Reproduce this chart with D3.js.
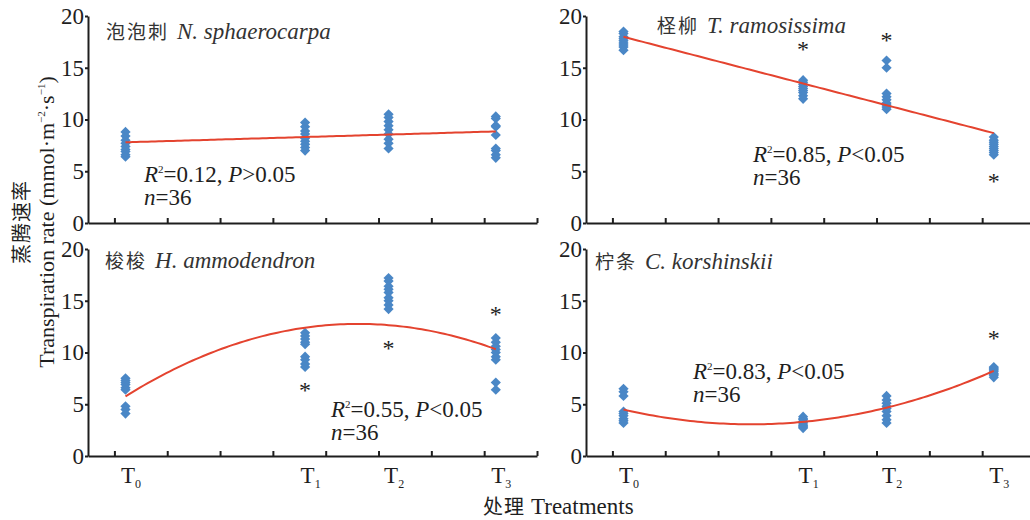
<!DOCTYPE html>
<html>
<head>
<meta charset="utf-8">
<script src="https://cdn.jsdelivr.net/npm/d3@7"></script>
<style>
  body { margin: 0; background: #fff; }
  svg { display: block; }
</style>
</head>
<body>
<svg id="chart" width="1030" height="520"></svg>
<script>
// ---- data ---------------------------------------------------------------
// Treatment subscripts (T0..T3) and their positions on the numeric x axis
const treatmentSubs = ["0", "1", "2", "3"];
const treatmentPos = [0.71, 4.11, 5.69, 7.72];
const xTickValues = [0.5, 1.5, 2.5, 3.5, 4.5, 5.5, 6.5, 7.5, 8.5];
const yTickValues = [0, 5, 10, 15, 20];

// Transpiration rate, 9 measurements per treatment (n = 36 per species)
const nSphaerocarpa = [
  [8.8, 8.4, 8.0, 7.7, 7.4, 7.1, 6.9, 6.6, 6.4],
  [9.7, 9.3, 8.9, 8.6, 8.2, 7.9, 7.6, 7.3, 7.0],
  [10.5, 10.2, 9.8, 9.4, 9.0, 8.6, 8.1, 7.7, 7.2],
  [10.3, 10.1, 9.4, 9.3, 8.5, 7.2, 7.0, 6.6, 6.3]
];
const tRamosissima = [
  [18.5, 18.3, 18.0, 17.8, 17.6, 17.4, 17.2, 17.0, 16.7],
  [13.8, 13.6, 13.4, 13.2, 13.0, 12.8, 12.6, 12.3, 12.0],
  [15.7, 15.0, 12.5, 12.2, 11.9, 11.6, 11.4, 11.2, 11.0],
  [8.3, 8.0, 7.8, 7.6, 7.4, 7.2, 7.0, 6.8, 6.6]
];
const hAmmodendron = [
  [7.5, 7.3, 7.1, 6.9, 6.6, 6.4, 4.8, 4.5, 4.1],
  [11.9, 11.6, 11.3, 11.0, 10.8, 9.6, 9.3, 8.9, 8.6],
  [17.2, 16.9, 16.4, 16.1, 15.8, 15.3, 15.0, 14.6, 14.2],
  [11.4, 11.0, 10.6, 10.3, 10.0, 9.6, 9.3, 7.1, 6.4]
];
const cKorshinskii = [
  [6.5, 6.2, 5.8, 4.3, 4.1, 3.9, 3.6, 3.4, 3.2],
  [3.8, 3.6, 3.5, 3.3, 3.2, 3.0, 2.9, 2.8, 2.7],
  [5.8, 5.4, 5.1, 4.8, 4.6, 4.3, 3.9, 3.5, 3.2],
  [8.6, 8.5, 8.4, 8.3, 8.2, 8.0, 7.9, 7.8, 7.6]
];

// Regression coefficients y = a + b·x + c·x²
const fitN = [7.69, 0.150, 0];
const fitT = [18.93, -1.327, 0];
const fitH = [3.33, 3.688, -0.3605];
const fitC = [5.45, -1.528, 0.2444];

// Significance marks (value where the * sits, null = none)
const starsN = [null, null, null, null];
const starsT = [null, 17.1, 18.0, 4.3];
const starsH = [null, 6.7, 10.7, 14.0];
const starsC = [null, null, null, 11.7];

// Regression statistics: R², comparison sign, P threshold, n
const statsN = ["0.12", ">", "0.05", "36"];
const statsT = ["0.85", "<", "0.05", "36"];
const statsH = ["0.55", "<", "0.05", "36"];
const statsC = ["0.83", "<", "0.05", "36"];

// Panel titles: Chinese name and Latin binomial
const titlesCN = ["泡泡刺", "柽柳", "梭梭", "柠条"];
const titlesLatin = ["N. sphaerocarpa", "T. ramosissima", "H. ammodendron", "C. korshinskii"];

// ---- layout -------------------------------------------------------------
const svg = d3.select("#chart");
const serif = '"Liberation Serif", "DejaVu Serif", serif';
const cjk = '"Noto Sans CJK SC", sans-serif';
const ink = "#1e1e1e";
const blue = "#4a87c6";
const red = "#e4432f";
const fs = 23;

const plotW = 449, plotH = 207;
const panels = [
  { x0: 88,  y0: 16,  values: nSphaerocarpa, fit: fitN, stars: starsN, stats: statsN, title: 0,
    titlePos: [18, 23], statsPos: [56, 166], xLabels: false },
  { x0: 586, y0: 16,  values: tRamosissima,  fit: fitT, stars: starsT, stats: statsT, title: 1,
    titlePos: [71, 17], statsPos: [167, 146], xLabels: false },
  { x0: 88,  y0: 249, values: hAmmodendron,  fit: fitH, stars: starsH, stats: statsH, title: 2,
    titlePos: [17, 19], statsPos: [243, 168], xLabels: true },
  { x0: 586, y0: 249, values: cKorshinskii,  fit: fitC, stars: starsC, stats: statsC, title: 3,
    titlePos: [9, 20], statsPos: [107, 130], xLabels: true }
];

const x = d3.scaleLinear().domain([0, 8.5]).range([0, plotW]);
const y = d3.scaleLinear().domain([0, 20]).range([plotH, 0]);
const diamond = d3.symbol().type(d3.symbolSquare).size(52);

panels.forEach(p => {
  const g = svg.append("g").attr("transform", `translate(${p.x0},${p.y0})`);

  // axes
  const xAxis = d3.axisBottom(x).tickValues(xTickValues).tickFormat("")
    .tickSizeInner(-5).tickSizeOuter(0);
  const gx = g.append("g").attr("transform", `translate(0,${plotH})`).call(xAxis);
  const yAxis = d3.axisLeft(y).tickValues(yTickValues).tickSizeInner(3)
    .tickSizeOuter(0).tickPadding(1);
  const gy = g.append("g").call(yAxis);
  [gx, gy].forEach(a => {
    a.attr("font-family", null).attr("font-size", null);
    a.select(".domain").attr("stroke", ink).attr("stroke-width", 2);
    a.selectAll(".tick line").attr("stroke", ink).attr("stroke-width", 2);
  });
  gy.selectAll(".tick text").attr("fill", ink)
    .attr("font-family", serif).attr("font-size", fs);

  // points
  const pts = p.values.flatMap((vals, i) => vals.map(v => ({ i, v })));
  g.append("g").selectAll("path").data(pts).join("path")
    .attr("d", diamond)
    .attr("transform", d => `translate(${x(treatmentPos[d.i])},${y(d.v)}) rotate(45)`)
    .attr("fill", blue);

  // regression curve
  const [a, b, c] = p.fit;
  const xs = d3.range(0, 101).map(k => treatmentPos[0] + (treatmentPos[3] - treatmentPos[0]) * k / 100);
  g.append("path")
    .datum(xs)
    .attr("d", d3.line().x(d => x(d)).y(d => y(a + b * d + c * d * d)))
    .attr("fill", "none").attr("stroke", red).attr("stroke-width", 2);

  // significance marks
  g.append("g").selectAll("text")
    .data(p.stars.map((v, i) => ({ v, i })).filter(d => d.v !== null))
    .join("text")
    .attr("x", d => x(treatmentPos[d.i]))
    .attr("y", d => y(d.v) + 11)
    .attr("text-anchor", "middle")
    .attr("fill", ink)
    .attr("font-family", serif).attr("font-size", 24)
    .text("*");

  // title
  const t = g.append("text")
    .attr("x", p.titlePos[0]).attr("y", p.titlePos[1])
    .attr("fill", "#333");
  t.append("tspan").attr("font-family", cjk).attr("font-size", 19)
    .attr("letter-spacing", "2").text(titlesCN[p.title]);
  t.append("tspan").attr("dx", 8).attr("font-family", serif).attr("font-size", fs)
    .attr("font-style", "italic").text(titlesLatin[p.title]);

  // statistics
  const s = g.append("g").attr("transform", `translate(${p.statsPos[0]},${p.statsPos[1]})`)
    .attr("fill", ink);
  const l1 = s.append("text").attr("font-family", serif).attr("font-size", fs);
  l1.append("tspan").attr("font-style", "italic").text("R");
  l1.append("tspan").attr("dy", -9).attr("font-size", 11).text("2");
  l1.append("tspan").attr("dy", 9).text("=" + p.stats[0] + ", ");
  l1.append("tspan").attr("font-style", "italic").text("P");
  l1.append("tspan").text(p.stats[1] + p.stats[2]);
  const l2 = s.append("text").attr("y", 23).attr("font-family", serif).attr("font-size", fs);
  l2.append("tspan").attr("font-style", "italic").text("n");
  l2.append("tspan").text("=" + p.stats[3]);

  // treatment labels
  if (p.xLabels) {
    g.append("g").selectAll("text").data(treatmentSubs).join("text")
      .attr("x", (d, i) => x(treatmentPos[i]) - 4.5)
      .attr("y", plotH + 27)
      .attr("fill", ink)
      .attr("font-family", serif).attr("font-size", fs)
      .each(function (d) {
        const el = d3.select(this);
        el.append("tspan").text("T");
        el.append("tspan").attr("dy", 5).attr("font-size", 12).text(d);
      });
  }
});

// shared axis titles
const yl = svg.append("g").attr("transform", "translate(0,222)");
yl.append("text")
  .attr("transform", "translate(29,0) rotate(-90)")
  .attr("text-anchor", "middle").attr("fill", ink)
  .attr("font-family", cjk).attr("font-size", 20).attr("letter-spacing", "1")
  .text("蒸腾速率");
const ye = yl.append("text")
  .attr("transform", "translate(54,0) rotate(-90)")
  .attr("text-anchor", "middle").attr("fill", ink)
  .attr("font-family", serif).attr("font-size", 22);
ye.append("tspan").text("Transpiration rate (mmol·m");
ye.append("tspan").attr("dy", -9).attr("font-size", 11).text("−2");
ye.append("tspan").attr("dy", 9).text("·s");
ye.append("tspan").attr("dy", -9).attr("font-size", 11).text("−1");
ye.append("tspan").attr("dy", 9).text(")");

const xl = svg.append("text")
  .attr("x", 483).attr("y", 514).attr("fill", ink);
xl.append("tspan").attr("font-family", cjk).attr("font-size", 20).attr("letter-spacing", "1").text("处理");
xl.append("tspan").attr("dx", 6).attr("font-family", serif).attr("font-size", fs).text("Treatments");
</script>
</body>
</html>
